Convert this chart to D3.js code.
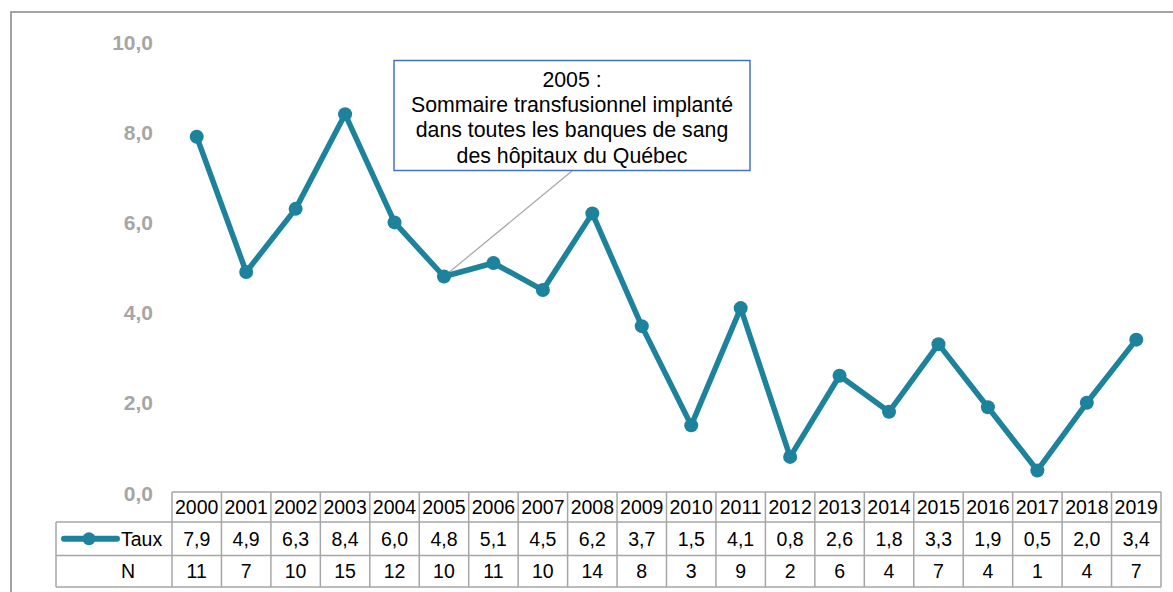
<!DOCTYPE html>
<html>
<head>
<meta charset="utf-8">
<script src="https://cdn.jsdelivr.net/npm/d3@7"></script>
<style>
	body { margin: 0; background: #fff; }
	svg { display: block; font-family: 'Liberation Sans', Arial, Helvetica, sans-serif; }
</style>
</head>
<body>
<div id="chart"></div>
<script>
var years = ['2000', '2001', '2002', '2003', '2004', '2005', '2006', '2007', '2008', '2009',
	'2010', '2011', '2012', '2013', '2014', '2015', '2016', '2017', '2018', '2019']
var taux = [7.9, 4.9, 6.3, 8.4, 6.0, 4.8, 5.1, 4.5, 6.2, 3.7, 1.5, 4.1, 0.8, 2.6, 1.8, 3.3, 1.9, 0.5, 2.0, 3.4]
var counts = [11, 7, 10, 15, 12, 10, 11, 10, 14, 8, 3, 9, 2, 6, 4, 7, 4, 1, 4, 7]
var yTicks = [0, 2, 4, 6, 8, 10]
var noteYear = '2005'
var noteLines = ['2005 :', 'Sommaire transfusionnel implanté', 'dans toutes les banques de sang', 'des hôpitaux du Québec']

function createChart() {
	let width = 1173
	let height = 592
	var lineColor = '#1d829c'
	var gridColor = '#a6a6a6'
	var fmt = d => d.toFixed(1).replace('.', ',')

	const svg = d3.select('#chart').append('svg')
		.attr('width', width)
		.attr('height', height)

	// outer frame (right and bottom run off the picture)
	svg.append('rect')
		.attr('x', 11)
		.attr('y', 12)
		.attr('width', width + 20)
		.attr('height', height + 20)
		.attr('fill', 'none')
		.attr('stroke', '#8c8c8c')
		.attr('stroke-width', 1.6)

	// scales
	var x = d3.scaleBand()
		.domain(years)
		.range([172, 1161])

	var y = d3.scaleLinear()
		.domain([0, 10])
		.range([493, 42])

	// y axis labels only
	svg.append('g')
		.selectAll('text')
		.data(yTicks)
		.enter()
		.append('text')
		.attr('x', 153)
		.attr('y', d => y(d))
		.attr('dy', '.36em')
		.attr('text-anchor', 'end')
		.attr('font-size', '21px')
		.attr('font-weight', 'bold')
		.attr('fill', gridColor)
		.text(fmt)

	// data table
	var rowTop = [492, 522, 555.5, 587]
	var table = svg.append('g')
		.attr('stroke', gridColor)
		.attr('stroke-width', 1.5)
		.attr('fill', 'none')

	// horizontal lines
	table.append('line').attr('x1', x.range()[0]).attr('x2', x.range()[1]).attr('y1', rowTop[0]).attr('y2', rowTop[0])
	rowTop.slice(1).forEach(function(ry) {
		table.append('line').attr('x1', 56).attr('x2', x.range()[1]).attr('y1', ry).attr('y2', ry)
	})
	// vertical lines
	table.append('line').attr('x1', 56).attr('x2', 56).attr('y1', rowTop[1]).attr('y2', rowTop[3])
	table.selectAll('line.col')
		.data(years.concat(['end']))
		.enter()
		.append('line')
		.attr('class', 'col')
		.attr('x1', d => d === 'end' ? x.range()[1] : x(d))
		.attr('x2', d => d === 'end' ? x.range()[1] : x(d))
		.attr('y1', rowTop[0])
		.attr('y2', rowTop[3])

	var cells = svg.append('g')
		.attr('font-size', '19.5px')
		.attr('fill', '#000')
		.attr('text-anchor', 'middle')

	var rows = [years, taux.map(fmt), counts.map(String)]
	rows.forEach(function(row, r) {
		cells.selectAll('text.r' + r)
			.data(row)
			.enter()
			.append('text')
			.attr('class', 'r' + r)
			.attr('x', (d, i) => x(years[i]) + x.bandwidth() / 2)
			.attr('y', (rowTop[r] + rowTop[r + 1]) / 2)
			.attr('dy', '.37em')
			.text(d => d)
	})

	// legend in the table
	var legY = (rowTop[1] + rowTop[2]) / 2
	svg.append('line')
		.attr('x1', 64).attr('x2', 117)
		.attr('y1', legY).attr('y2', legY)
		.attr('stroke', lineColor)
		.attr('stroke-width', 6)
		.attr('stroke-linecap', 'round')
	svg.append('circle')
		.attr('cx', 89).attr('cy', legY)
		.attr('r', 6.5)
		.attr('fill', lineColor)
	svg.append('text')
		.attr('x', 121).attr('y', legY)
		.attr('dy', '.37em')
		.attr('font-size', '19.5px')
		.text('Taux')
	svg.append('text')
		.attr('x', 128).attr('y', (rowTop[2] + rowTop[3]) / 2)
		.attr('dy', '.37em')
		.attr('font-size', '19.5px')
		.attr('text-anchor', 'middle')
		.text('N')

	// annotation leader and box
	var cx = d => x(d) + x.bandwidth() / 2
	var noteIdx = years.indexOf(noteYear)
	svg.append('line')
		.attr('x1', 572).attr('y1', 171)
		.attr('x2', cx(noteYear)).attr('y2', y(taux[noteIdx]))
		.attr('stroke', gridColor)
		.attr('stroke-width', 1.2)

	// line series
	var line = d3.line()
		.x((d, i) => cx(years[i]))
		.y(d => y(d))

	svg.append('path')
		.datum(taux)
		.attr('d', line)
		.attr('fill', 'none')
		.attr('stroke', lineColor)
		.attr('stroke-width', 5.5)
		.attr('stroke-linejoin', 'round')

	svg.append('g')
		.selectAll('circle')
		.data(taux)
		.enter()
		.append('circle')
		.attr('cx', (d, i) => cx(years[i]))
		.attr('cy', d => y(d))
		.attr('r', 7)
		.attr('fill', lineColor)

	svg.append('rect')
		.attr('x', 394).attr('y', 60.5)
		.attr('width', 356).attr('height', 110)
		.attr('fill', '#fff')
		.attr('stroke', '#4472c4')
		.attr('stroke-width', 1.5)

	svg.append('g')
		.selectAll('text')
		.data(noteLines)
		.enter()
		.append('text')
		.attr('x', 572)
		.attr('y', (d, i) => 79 + i * 25.3)
		.attr('dy', '.36em')
		.attr('text-anchor', 'middle')
		.attr('font-size', '21.3px')
		.text(d => d)
}

createChart()
</script>
</body>
</html>
